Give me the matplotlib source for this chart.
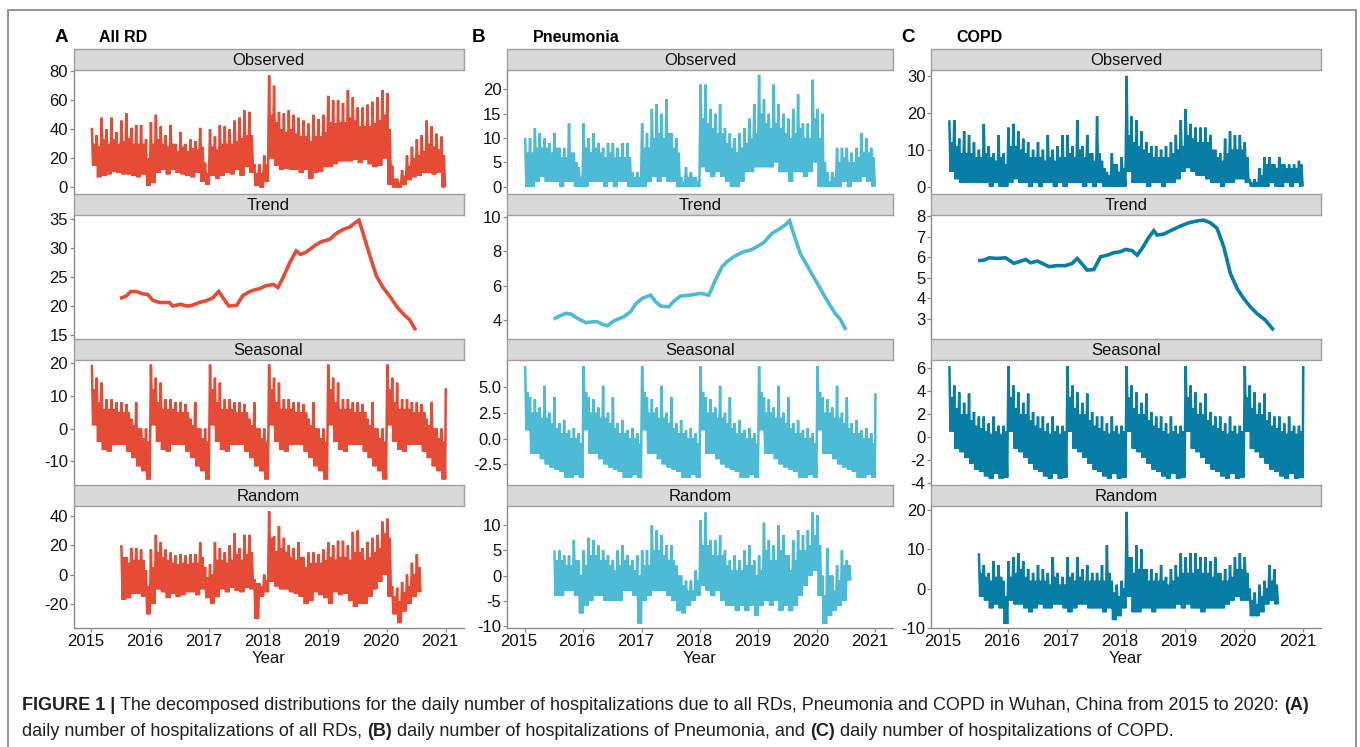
import matplotlib
matplotlib.use("Agg")
import matplotlib.pyplot as plt
from matplotlib import font_manager as fm
from matplotlib.patches import Rectangle
import matplotlib.transforms as mtransforms

# ===================== DATA =====================
YEAR_TICKS = [2015, 2016, 2017, 2018, 2019, 2020, 2021]
COMPONENTS = ["Observed", "Trend", "Seasonal", "Random"]
PANEL_LETTERS = ["A", "B", "C"]
PANEL_TITLES = ["All RD", "Pneumonia", "COPD"]
COLORS = ["#E64B35", "#4DBBD5", "#087DA6"]

# Observed, per month Jan 2015 .. Dec 2020:
#   HI = highest spike, TOP = upper edge of the dense band, LO = lower edge
OBS_A_HI = [41, 36, 48, 40, 48, 38, 46, 51, 41, 43, 43, 33,
            45, 50, 42, 36, 43, 30, 38, 30, 33, 32, 41, 17,
            40, 35, 43, 42, 40, 46, 48, 53, 52, 16, 16, 22,
            77, 70, 52, 51, 53, 50, 48, 46, 44, 50, 47, 50,
            63, 60, 60, 58, 67, 62, 55, 55, 57, 59, 62, 67,
            65, 15, 6, 12, 22, 28, 33, 36, 46, 42, 37, 35]
OBS_A_TOP = [30, 28, 33, 30, 33, 30, 32, 34, 30, 30, 30, 20,
             30, 33, 30, 28, 30, 25, 28, 25, 27, 26, 28, 10,
             28, 26, 30, 30, 30, 32, 34, 36, 36, 10, 10, 16,
             50, 45, 40, 38, 40, 37, 35, 35, 32, 35, 35, 38,
             45, 44, 45, 45, 48, 46, 42, 42, 42, 44, 46, 50,
             40, 6, 3, 8, 15, 20, 22, 25, 30, 28, 26, 22]
OBS_A_LO = [15, 7, 8, 9, 11, 10, 9, 9, 8, 7, 9, 1,
            3, 10, 12, 9, 12, 10, 9, 8, 7, 10, 4, 2,
            8, 6, 8, 10, 9, 12, 8, 14, 10, 1, 0, 4,
            20, 15, 12, 13, 12, 12, 10, 12, 6, 10, 11, 14,
            14, 16, 18, 18, 18, 19, 17, 19, 16, 14, 15, 20,
            2, 0, 0, 2, 5, 7, 8, 10, 10, 9, 10, 0]
OBS_B_HI = [10, 10, 12, 11, 10, 9, 11, 8, 8, 13, 7, 4,
            13, 10, 11, 9, 8, 9, 9, 8, 9, 9, 3, 3,
            13, 11, 16, 17, 15, 18, 11, 10, 2, 4, 3, 2,
            21, 21, 16, 15, 17, 12, 11, 10, 11, 12, 14, 17,
            23, 18, 15, 21, 17, 15, 14, 16, 19, 13, 13, 22,
            16, 15, 3, 3, 8, 8, 8, 7, 8, 11, 10, 8]
OBS_B_TOP = [7, 7, 8, 8, 8, 7, 8, 6, 6, 7, 5, 2,
             8, 7, 8, 7, 6, 7, 6, 6, 6, 6, 2, 2,
             8, 8, 10, 11, 10, 11, 8, 7, 1, 2, 2, 1,
             14, 13, 12, 11, 11, 9, 8, 7, 8, 9, 10, 11,
             15, 13, 12, 13, 12, 11, 10, 11, 12, 10, 10, 14,
             10, 5, 1, 2, 5, 6, 5, 5, 6, 7, 7, 6]
OBS_B_LO = [0, 0, 1, 2, 1, 1, 1, 0, 1, 1, 0, 0,
            0, 1, 1, 1, 0, 1, 0, 1, 1, 0, 0, 0,
            0, 1, 2, 1, 2, 1, 1, 0, 0, 0, 0, 0,
            4, 3, 2, 3, 2, 1, 0, 0, 1, 3, 3, 4,
            4, 4, 4, 5, 3, 3, 1, 3, 3, 2, 3, 5,
            0, 0, 0, 0, 0, 1, 0, 1, 1, 2, 1, 0]
OBS_C_HI = [18, 18, 13, 15, 14, 12, 10, 17, 11, 9, 14, 9,
            16, 17, 15, 13, 12, 10, 12, 10, 14, 10, 11, 14,
            14, 11, 18, 11, 14, 9, 19, 7, 4, 9, 6, 8,
            30, 19, 18, 15, 12, 11, 11, 10, 11, 12, 14, 18,
            21, 17, 16, 16, 16, 14, 10, 9, 13, 15, 14, 14,
            12, 2, 2, 5, 8, 8, 6, 8, 6, 6, 6, 7]
OBS_C_TOP = [12, 11, 9, 9, 9, 8, 8, 9, 8, 7, 8, 6,
             11, 11, 10, 9, 8, 8, 8, 7, 8, 7, 8, 8,
             9, 8, 10, 8, 9, 7, 9, 5, 3, 6, 4, 5,
             14, 12, 11, 10, 9, 8, 8, 8, 8, 9, 10, 11,
             14, 13, 12, 12, 12, 10, 8, 7, 9, 10, 10, 10,
             8, 1, 1, 3, 6, 6, 5, 6, 5, 5, 5, 6]
OBS_C_LO = [4, 2, 1, 1, 1, 1, 1, 1, 0, 1, 0, 0,
            1, 2, 1, 1, 0, 1, 0, 1, 1, 0, 1, 0,
            1, 1, 1, 0, 1, 0, 1, 0, 0, 0, 0, 0,
            4, 1, 1, 1, 0, 1, 1, 0, 1, 1, 2, 4,
            5, 4, 3, 3, 2, 1, 1, 0, 1, 1, 2, 2,
            1, 0, 0, 0, 0, 1, 0, 0, 1, 0, 1, 0]

# Trend: (decimal year, value)
TREND_A_X = [2015.486, 2015.588, 2015.672, 2015.757, 2015.870, 2015.955, 2016.040, 2016.153,
             2016.322, 2016.379, 2016.520, 2016.605, 2016.689, 2016.831, 2016.944, 2017.056,
             2017.158, 2017.237, 2017.328, 2017.463, 2017.565, 2017.706, 2017.847, 2017.960,
             2018.085, 2018.158, 2018.243, 2018.356, 2018.469, 2018.542, 2018.638, 2018.780,
             2018.893, 2019.034, 2019.147, 2019.260, 2019.373, 2019.458, 2019.531, 2019.599,
             2019.712, 2019.825, 2019.938, 2020.079, 2020.192, 2020.305, 2020.390, 2020.492]
TREND_A_Y = [21.3, 21.7, 22.5, 22.5, 22.1, 22.0, 21.0, 20.6,
             20.6, 20.0, 20.3, 20.0, 20.05, 20.6, 20.9, 21.4,
             22.5, 21.3, 20.0, 20.1, 21.8, 22.6, 23.0, 23.5,
             23.7, 23.2, 24.8, 27.4, 29.5, 28.9, 29.3, 30.4,
             31.1, 31.5, 32.5, 33.2, 33.6, 34.3, 34.8, 32.6,
             28.8, 25.2, 23.2, 21.3, 19.6, 18.4, 17.6, 15.8]
TREND_B_X = [2015.497, 2015.594, 2015.707, 2015.793, 2015.906, 2016.048, 2016.162, 2016.247,
             2016.332, 2016.418, 2016.531, 2016.702, 2016.815, 2016.901, 2017.014, 2017.156,
             2017.241, 2017.327, 2017.469, 2017.554, 2017.668, 2017.838, 2018.009, 2018.151,
             2018.264, 2018.378, 2018.463, 2018.577, 2018.747, 2018.861, 2018.974, 2019.088,
             2019.230, 2019.372, 2019.457, 2019.531, 2019.599, 2019.713, 2019.827, 2019.940,
             2020.054, 2020.168, 2020.310, 2020.395, 2020.497]
TREND_B_Y = [4.06, 4.23, 4.39, 4.35, 4.10, 3.85, 3.90, 3.90,
             3.75, 3.67, 3.96, 4.20, 4.50, 4.94, 5.26, 5.45,
             5.07, 4.81, 4.77, 5.10, 5.40, 5.45, 5.55, 5.45,
             6.32, 7.10, 7.39, 7.68, 7.97, 8.06, 8.26, 8.49,
             9.03, 9.32, 9.52, 9.77, 9.03, 7.87, 7.19, 6.52,
             5.84, 5.16, 4.39, 4.06, 3.42]
TREND_C_X = [2015.496, 2015.597, 2015.682, 2015.823, 2015.963, 2016.104, 2016.189, 2016.301,
             2016.386, 2016.499, 2016.583, 2016.696, 2016.837, 2016.977, 2017.090, 2017.175,
             2017.259, 2017.344, 2017.456, 2017.569, 2017.682, 2017.794, 2017.907, 2017.992,
             2018.104, 2018.189, 2018.273, 2018.386, 2018.470, 2018.527, 2018.639, 2018.780,
             2018.921, 2019.062, 2019.203, 2019.315, 2019.428, 2019.541, 2019.654, 2019.766,
             2019.879, 2019.992, 2020.104, 2020.217, 2020.358, 2020.499]
TREND_C_Y = [5.82, 5.85, 5.96, 5.93, 5.96, 5.69, 5.77, 5.88,
             5.72, 5.80, 5.69, 5.53, 5.58, 5.58, 5.69, 5.93,
             5.65, 5.36, 5.39, 6.01, 6.09, 6.21, 6.26, 6.37,
             6.31, 6.09, 6.42, 6.96, 7.28, 7.07, 7.12, 7.32,
             7.51, 7.67, 7.76, 7.80, 7.67, 7.40, 6.50, 5.20,
             4.47, 3.98, 3.57, 3.24, 2.92, 2.43]

# Seasonal: the yearly figure (per month HI / TOP / LO), identical every year,
# plus the value on the last day of 2020
SEAS_A_YEAR_HI = [19.5, 15.5, 14, 9, 9, 8, 8, 7.5, 3, 8, 0, 0]
SEAS_A_YEAR_TOP = [12, 8, 6, 6, 6, 5, 5, 5, 1, 0, -3, -4]
SEAS_A_YEAR_LO = [1, -4, -6.5, -7, -5, -5, -5, -7, -9, -11.5, -13, -15.5]
SEAS_A_END = 12.3
SEAS_B_YEAR_HI = [7.0, 4.0, 3.8, 3.0, 5.1, 2.5, 4.0, 1.5, 1.8, 0.8, 1.0, 0.5]
SEAS_B_YEAR_TOP = [4.5, 2.5, 2.5, 2.0, 2.0, 1.5, 1.0, 0.5, 0.5, 0.0, 0.0, -0.5]
SEAS_B_YEAR_LO = [0.8, -1.5, -1.5, -2.0, -2.5, -2.8, -3.0, -3.2, -3.8, -3.8, -3.5, -3.8]
SEAS_B_END = 4.4
SEAS_C_YEAR_HI = [6.2, 4.5, 3.9, 3.0, 3.8, 2.2, 1.8, 1.8, 1.2, 1.8, 1.0, 1.0]
SEAS_C_YEAR_TOP = [3.5, 2.5, 2.0, 2.0, 1.5, 1.0, 0.8, 0.5, 0.3, 0.5, 0.3, 0.5]
SEAS_C_YEAR_LO = [0.5, -1.0, -1.3, -1.8, -2.3, -2.8, -3.0, -3.4, -3.6, -3.2, -3.6, -3.5]
SEAS_C_END = 6.2
N_YEARS = 6

# Random, per month Jul 2015 .. Jul 2020 (HI / TOP / LO)
RAND_A_HI = [20, 12, 18, 18, 17, 3,
             17, 27, 22, 17, 15, 13, 14, 13, 14, 14, 22, 5,
             7, 22, 18, 15, 20, 28, 18, 27, 27, -3, -6, 0,
             43, 26, 33, 25, 20, 18, 22, 12, 15, 15, 14, 17,
             22, 20, 23, 23, 20, 29, 30, 18, 22, 25, 27, 36,
             38, -8, -9, -5, 0, 8, 14]
RAND_A_TOP = [12, 8, 10, 10, 10, -8,
              5, 15, 12, 10, 8, 7, 8, 7, 8, 8, 12, -2,
              0, 10, 10, 8, 10, 14, 10, 14, 15, -6, -8, -4,
              25, 16, 18, 15, 12, 10, 12, 5, 8, 8, 8, 10,
              12, 10, 12, 12, 10, 15, 15, 10, 12, 15, 18, 28,
              25, -15, -18, -12, -8, 0, 5]
RAND_A_LO = [-17, -16, -13, -13, -15, -27,
             -20, -10, -12, -16, -13, -15, -14, -12, -12, -14, -10, -16,
             -20, -15, -10, -12, -9, -11, -12, -9, -10, -30, -15, -12,
             -5, -8, -10, -10, -12, -13, -15, -20, -18, -12, -14, -16,
             -20, -12, -14, -13, -18, -22, -20, -20, -15, -10, -5, 0,
             -15, -27, -33, -25, -20, -15, -12]
RAND_B_HI = [5, 5, 4, 4, 7, 3,
             5, 7.5, 7, 6, 5, 4, 3, 5, 6, 4, 3, 4,
             5, 5, 10, 9, 8, 6, 6, 2, 0, -1, -1, 1,
             11, 12.5, 7, 7, 8, 5, 3, 4, 3, 5, 6, 3,
             4, 10.5, 7, 6, 10, 8, 4, 7, 9, 8, 9, 12.5,
             12, 0, 5.5, 0, 2, 5, 3]
RAND_B_TOP = [3, 3, 2, 2, 3, 0,
              2, 4, 4, 3, 3, 2, 1, 2, 3, 2, 1, 0,
              2, 2, 5, 5, 4, 3, 3, 0, -2, -3, -3, -1,
              6, 6, 4, 4, 4, 2, 1, 1, 1, 2, 2, 0,
              1, 5, 3, 3, 5, 4, 1, 3, 5, 5, 6, 8,
              6, -4, 0, -3, -1, 2, 2]
RAND_B_LO = [-4, -4, -3, -3, -4, -7.5,
             -6, -5, -4, -4, -5, -5, -5, -5, -3, -3, -4, -9.5,
             -5, -4, -3, -3, -3, -4, -5, -7, -7.5, -6, -5, -4,
             -2, -3, -4, -3, -5, -6, -6, -7, -6, -7, -6, -8,
             -6, -5, -6, -5, -7, -6, -7, -6, -4, -2, 0, 1,
             -4, -9.5, -8, -7, -6, -5, -1]
RAND_C_HI = [9, 6, 4, 7, 6, 2,
             7, 8, 9, 7, 5, 4, 6, 5, 4, 8, 4, 3,
             8, 4, 8, 5, 6, 4, 4, 6, 11, 2, 1, 2,
             19.5, 8, 11, 10, 5, 5, 4, 6, 3, 5, 6, 9,
             8, 9, 9, 8, 8, 7, 8, 4, 5, 6, 8, 9,
             8, 0, -1, 1, 2, 6, 5]
RAND_C_TOP = [4, 3, 2, 3, 3, -2,
              3, 4, 5, 3, 2, 2, 2, 2, 1, 3, 1, 1,
              3, 2, 3, 2, 2, 2, 2, 2, 4, -1, -2, 0,
              8, 4, 5, 5, 2, 2, 2, 2, 1, 2, 3, 4,
              4, 4, 5, 4, 4, 3, 4, 2, 2, 3, 5, 5,
              4, -3, -4, -2, 0, 2, 1]
RAND_C_LO = [-2, -3, -5, -4, -5, -9,
             -3, -4, -4, -5, -6, -5, -4, -5, -5, -4, -4, -5,
             -6, -5, -4, -4, -5, -5, -5, -6, -5, -8, -7, -5,
             -2, -6, -6, -5, -5, -6, -5, -5, -5, -5, -4, -5,
             -4, -5, -5, -6, -5, -5, -5, -5, -4, -3, -2, -3,
             -3, -7, -7, -6, -4, -3, -4]
RAND_START_MONTH = 6   # July 2015 (0 = Jan 2015)

# axis ticks / limits
Y_TICKS = {
    ("A", "Observed"): [0, 20, 40, 60, 80], ("A", "Trend"): [15, 20, 25, 30, 35],
    ("A", "Seasonal"): [-10, 0, 10, 20], ("A", "Random"): [-20, 0, 20, 40],
    ("B", "Observed"): [0, 5, 10, 15, 20], ("B", "Trend"): [4, 6, 8, 10],
    ("B", "Seasonal"): [-2.5, 0.0, 2.5, 5.0], ("B", "Random"): [-10, -5, 0, 5, 10],
    ("C", "Observed"): [0, 10, 20, 30], ("C", "Trend"): [3, 4, 5, 6, 7, 8],
    ("C", "Seasonal"): [-4, -2, 0, 2, 4, 6], ("C", "Random"): [-10, 0, 10, 20],
}
Y_LIMS = {
    ("A", "Observed"): (-4.5, 80.8), ("A", "Trend"): (14.3, 35.7),
    ("A", "Seasonal"): (-17.2, 20.9), ("A", "Random"): (-36.3, 46.6),
    ("B", "Observed"): (-1.5, 24.0), ("B", "Trend"): (2.9, 10.1),
    ("B", "Seasonal"): (-4.5, 7.6), ("B", "Random"): (-10.4, 13.8),
    ("C", "Observed"): (-2.0, 31.6), ("C", "Trend"): (2.0, 8.05),
    ("C", "Seasonal"): (-4.15, 6.72), ("C", "Random"): (-10.0, 21.0),
}
X_LIM = (2014.7, 2021.3)

CAPTION_1 = [("FIGURE 1 |", True),
             ("The decomposed distributions for the daily number of hospitalizations due to all RDs, "
              "Pneumonia and COPD in Wuhan, China from 2015 to 2020:", False),
             ("(A)", True)]
CAPTION_2 = [("daily number of hospitalizations of all RDs,", False), ("(B)", True),
             ("daily number of hospitalizations of Pneumonia, and", False), ("(C)", True),
             ("daily number of hospitalizations of COPD.", False)]


# ===================== helpers =====================
def monthly_points(hi, top, lo, start_month):
    """Each month is traced spike -> low -> band top -> low."""
    xs, ys = [], []
    for i, (h, t, l) in enumerate(zip(hi, top, lo)):
        m = 2015 + (start_month + i) / 12
        xs += [m + 0.125 / 12, m + 0.375 / 12, m + 0.625 / 12, m + 0.875 / 12]
        ys += [h, l, t, l]
    return xs, ys


def seasonal_points(year_hi, year_top, year_lo, end_value):
    xs, ys = monthly_points(year_hi * N_YEARS, year_top * N_YEARS, year_lo * N_YEARS, 0)
    xs.append(2021.0)
    ys.append(end_value)
    return xs, ys


SERIES = {
    "A": {"Observed": monthly_points(OBS_A_HI, OBS_A_TOP, OBS_A_LO, 0),
          "Trend": (TREND_A_X, TREND_A_Y),
          "Seasonal": seasonal_points(SEAS_A_YEAR_HI, SEAS_A_YEAR_TOP, SEAS_A_YEAR_LO, SEAS_A_END),
          "Random": monthly_points(RAND_A_HI, RAND_A_TOP, RAND_A_LO, RAND_START_MONTH)},
    "B": {"Observed": monthly_points(OBS_B_HI, OBS_B_TOP, OBS_B_LO, 0),
          "Trend": (TREND_B_X, TREND_B_Y),
          "Seasonal": seasonal_points(SEAS_B_YEAR_HI, SEAS_B_YEAR_TOP, SEAS_B_YEAR_LO, SEAS_B_END),
          "Random": monthly_points(RAND_B_HI, RAND_B_TOP, RAND_B_LO, RAND_START_MONTH)},
    "C": {"Observed": monthly_points(OBS_C_HI, OBS_C_TOP, OBS_C_LO, 0),
          "Trend": (TREND_C_X, TREND_C_Y),
          "Seasonal": seasonal_points(SEAS_C_YEAR_HI, SEAS_C_YEAR_TOP, SEAS_C_YEAR_LO, SEAS_C_END),
          "Random": monthly_points(RAND_C_HI, RAND_C_TOP, RAND_C_LO, RAND_START_MONTH)},
}

# ===================== figure =====================
names = {f.name for f in fm.fontManager.ttflist}
BASE = "Liberation Sans" if "Liberation Sans" in names else "DejaVu Sans"
NARROW = "Liberation Sans Narrow" if "Liberation Sans Narrow" in names else BASE
plt.rcParams["font.family"] = [BASE, "DejaVu Sans"]

W, H = 1360, 747
fig = plt.figure(figsize=(W / 100, H / 100), dpi=100)
fig.patch.set_facecolor("white")


def px_axes(x0, y0, x1, y1):
    return fig.add_axes([x0 / W, 1 - y1 / H, (x1 - x0) / W, (y1 - y0) / H])


# outer frame
fig.add_artist(Rectangle((8 / W, -0.05), (1356 - 8) / W, 1 - 10 / H + 0.05,
                         transform=fig.transFigure, fill=False,
                         edgecolor="#8c8c8c", linewidth=1.3))

COLS = [(73.5, 463.5), (507, 893), (931, 1321)]
ROWS = [(49, 70, 194), (194, 215, 339), (339, 360, 485), (485, 506, 628)]
LETTER_X = [55, 472, 901]
TITLE_X = [99, 533, 956]
AXIS_GREY = "#8a8a8a"
TICK_FS = 12
shift = mtransforms.ScaledTranslation(-6 / 100, 0, fig.dpi_scale_trans)

for p, (letter, title, color, (x0, x1)) in enumerate(zip(PANEL_LETTERS, PANEL_TITLES, COLORS, COLS)):
    fig.text(LETTER_X[p] / W, 1 - 38 / H, letter, fontsize=13.5, fontweight="bold",
             ha="left", va="center")
    fig.text(TITLE_X[p] / W, 1 - 37 / H, title, fontsize=11.5, fontweight="bold",
             ha="left", va="center")
    for r, (comp, (st, pt, pb)) in enumerate(zip(COMPONENTS, ROWS)):
        ax = px_axes(x0, pt, x1, pb)
        xs, ys = SERIES[letter][comp]
        lw = 2.6 if comp == "Trend" else 1.8
        ax.plot(xs, ys, color=color, linewidth=lw, solid_joinstyle="miter",
                solid_capstyle="butt")
        ax.set_xlim(*X_LIM)
        ax.set_ylim(*Y_LIMS[(letter, comp)])
        ticks = Y_TICKS[(letter, comp)]
        ax.set_yticks(ticks)
        if letter == "B" and comp == "Seasonal":
            ax.set_yticklabels([f"{t:.1f}" for t in ticks])
        else:
            ax.set_yticklabels([f"{t:g}" for t in ticks])
        for s in ["top", "right"]:
            ax.spines[s].set_visible(False)
        ax.spines["left"].set_color(AXIS_GREY)
        ax.spines["left"].set_linewidth(1.0)
        ax.tick_params(axis="y", length=3, width=0.9, color=AXIS_GREY, pad=1,
                       labelsize=TICK_FS, labelcolor="#111111")
        ax.patch.set_alpha(0)
        if comp == "Random":
            ax.spines["bottom"].set_color(AXIS_GREY)
            ax.spines["bottom"].set_linewidth(1.0)
            ax.set_xticks(YEAR_TICKS)
            ax.set_xticklabels([str(y) for y in YEAR_TICKS])
            ax.tick_params(axis="x", length=3, width=0.9, color=AXIS_GREY, pad=1.5,
                           labelsize=TICK_FS, labelcolor="#111111")
            for lab in ax.get_xticklabels():
                lab.set_transform(lab.get_transform() + shift)
            ax.set_xlabel("Year", fontsize=TICK_FS, labelpad=1, color="#111111")
        else:
            ax.spines["bottom"].set_visible(False)
            ax.set_xticks([])
        # strip
        sax = px_axes(x0, st, x1, pt)
        sax.set_facecolor("#D9D9D9")
        sax.set_xticks([])
        sax.set_yticks([])
        for s in sax.spines.values():
            s.set_color("#A0A0A0")
            s.set_linewidth(1.0)
        sax.text(0.5, 0.47, comp, transform=sax.transAxes, ha="center", va="center",
                 fontsize=12, color="#111111")

# ===================== caption =====================
renderer = fig.canvas.get_renderer()


def text_width(s, bold, size):
    t = fig.text(0, 0, s, fontsize=size, fontweight="bold" if bold else "normal",
                 family=[NARROW, BASE])
    w = t.get_window_extent(renderer).width
    t.remove()
    return w


def line_width(parts, size):
    sp = text_width("x x", False, size) - text_width("xx", False, size)
    return sum(text_width(s, b, size) for s, b in parts) + sp * (len(parts) - 1)


cap_size = 10 * (1313 - 22) / line_width(CAPTION_1, 10)


def draw_line(parts, y_px, size):
    x = 22.0
    sp = text_width("x x", False, size) - text_width("xx", False, size)
    for s, b in parts:
        fig.text(x / W, 1 - y_px / H, s, fontsize=size, fontweight="bold" if b else "normal",
                 family=[NARROW, BASE], ha="left", va="center", color="#231f20")
        x += text_width(s, b, size) + sp


draw_line(CAPTION_1, 705, cap_size)
draw_line(CAPTION_2, 731, cap_size)

fig.savefig("out.png", dpi=100)
